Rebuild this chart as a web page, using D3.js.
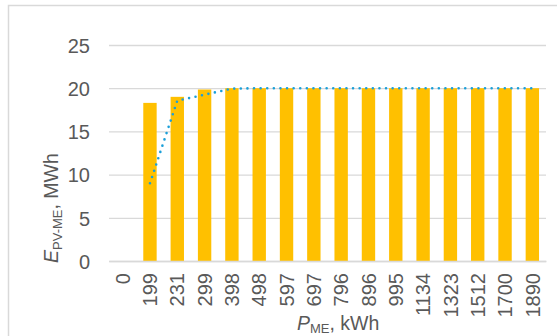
<!DOCTYPE html>
<html>
<head>
<meta charset="utf-8">
<script src="https://cdn.jsdelivr.net/npm/d3@7"></script>
<style>
  html, body { margin: 0; padding: 0; background: #fff; }
  svg { display: block; font-family: "Liberation Sans", Arial, sans-serif; }
</style>
</head>
<body>
<svg id="chart" width="557" height="336"></svg>
<script>
// Installed capacity categories (kWh)
const categories = ["0", "199", "231", "299", "398", "498", "597", "697", "796", "896", "995", "1134", "1323", "1512", "1700", "1890"];
// Annual energy for each capacity (MWh), bars
const barValues = [0, 18.3, 19.0, 19.85, 20, 20, 20, 20, 20, 20, 20, 20, 20, 20, 20, 20];
// Dotted trend series (MWh); no point at 0
const lineValues = [null, 9.0, 18.55, 19.25, 19.95, 20, 20, 20, 20, 20, 20, 20, 20, 20, 20, 20];
const yTicks = [0, 5, 10, 15, 20, 25];

const svg = d3.select("#chart");
const plot = { left: 109, right: 546, top: 45, bottom: 261 };
const textColor = "#595959";
const gridColor = "#d9d9d9";

// Chart frame
svg.append("rect")
  .attr("x", 8.5).attr("y", 5.5)
  .attr("width", 560).attr("height", 340)
  .attr("fill", "none").attr("stroke", gridColor).attr("stroke-width", 1.5);

const xc = d3.scaleBand().domain(categories).range([plot.left, plot.right]);
const y = d3.scaleLinear().domain([0, 25]).range([plot.bottom, plot.top]);

// Horizontal gridlines and y tick labels
const yAxis = d3.axisLeft(y).tickValues(yTicks).tickSize(-(plot.right - plot.left)).tickPadding(19);
const gy = svg.append("g").attr("transform", `translate(${plot.left},0)`).call(yAxis);
gy.select(".domain").remove();
gy.selectAll(".tick line").attr("stroke", gridColor).attr("stroke-width", 1.3);
gy.selectAll(".tick text").attr("fill", textColor).attr("font-size", 20).attr("dy", "0.36em");

// Bars
svg.append("g").selectAll("rect")
  .data(categories.map((c, i) => ({ c, v: barValues[i] })).filter(d => d.v > 0))
  .join("rect")
  .attr("x", d => xc(d.c) + xc.bandwidth() / 2 - xc.bandwidth() * 0.245)
  .attr("width", xc.bandwidth() * 0.49)
  .attr("y", d => y(d.v))
  .attr("height", d => y(0) - y(d.v))
  .attr("fill", "#FFC000");

// Category axis with rotated labels
const xAxis = d3.axisBottom(xc).tickSize(0).tickPadding(0);
const gx = svg.append("g").attr("transform", `translate(0,${plot.bottom})`).call(xAxis);
gx.select(".domain").attr("stroke", gridColor).attr("stroke-width", 1.3);
gx.selectAll(".tick text")
  .attr("fill", textColor).attr("font-size", 20)
  .attr("transform", "rotate(-90)")
  .attr("text-anchor", "end")
  .attr("x", -12).attr("y", 0).attr("dy", "0.36em");

// Dotted trend line
const line = d3.line()
  .defined(d => d.v != null)
  .x(d => xc(d.c) + xc.bandwidth() / 2)
  .y(d => y(d.v));
svg.append("path")
  .datum(categories.map((c, i) => ({ c, v: lineValues[i] })))
  .attr("d", line)
  .attr("fill", "none")
  .attr("stroke", "#1a9fd9")
  .attr("stroke-width", 2.6)
  .attr("stroke-linecap", "round")
  .attr("stroke-dasharray", "0 6.6");

// Axis titles
const yTitle = svg.append("text")
  .attr("transform", "translate(58,263) rotate(-90)")
  .attr("fill", textColor).attr("font-size", 19.5);
yTitle.append("tspan").attr("font-style", "italic").text("E");
yTitle.append("tspan").attr("font-size", 13).attr("dy", 4).text("PV-ME");
yTitle.append("tspan").attr("dy", -4).text(", MWh");

const xTitle = svg.append("text")
  .attr("x", 297).attr("y", 329.5)
  .attr("fill", textColor).attr("font-size", 19.5);
xTitle.append("tspan").attr("font-style", "italic").text("P");
xTitle.append("tspan").attr("font-size", 13).attr("dy", 3).text("ME");
xTitle.append("tspan").attr("dy", -3).text(", kWh");
</script>
</body>
</html>
